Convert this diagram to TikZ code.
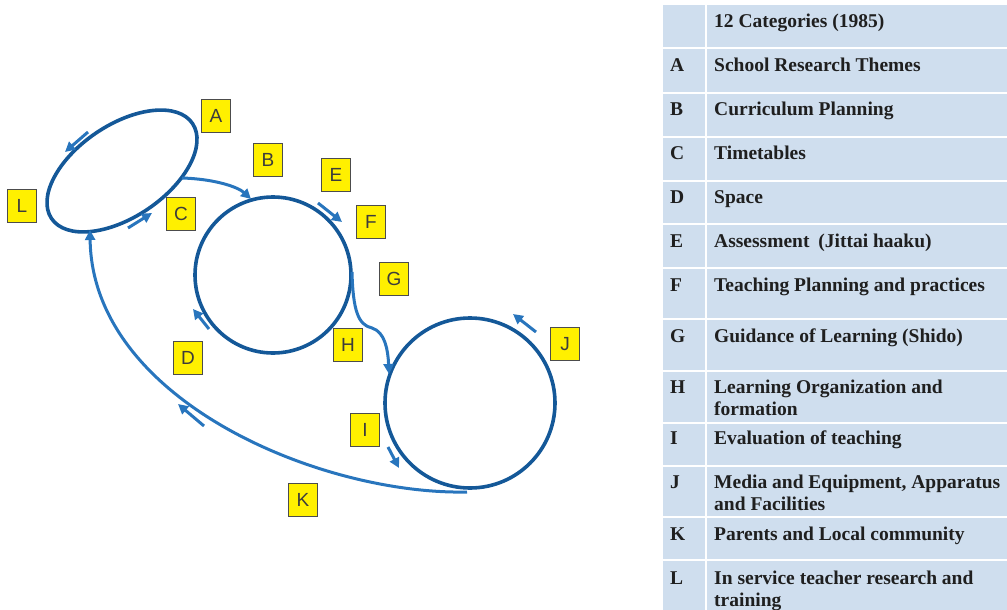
\documentclass[tikz,border=0pt]{standalone}
\usepackage{fontspec}
\setmainfont{Liberation Serif}
\newfontfamily\labelfont{Liberation Sans}
\usetikzlibrary{arrows.meta,shapes.geometric}
\definecolor{ringc}{RGB}{20,88,152}
\definecolor{flowc}{RGB}{40,117,189}
\definecolor{tabc}{RGB}{207,222,238}
\definecolor{tagc}{RGB}{255,240,0}
\definecolor{tagtext}{RGB}{60,60,60}
\begin{document}
\begin{tikzpicture}[x=1pt,y=-1pt,
  ring/.style={draw=ringc,line width=3.6pt,inner sep=0pt},
  flowline/.style={draw=flowc,line width=3pt,-{Triangle[length=10pt,width=10pt]}},
  tagbox/.style={draw=black!70,fill=tagc,line width=0.8pt,minimum width=29pt,minimum height=33pt,inner sep=0pt,font=\labelfont\fontsize{19}{19}\selectfont,text=tagtext},
  rowtext/.style={anchor=base west,inner sep=0pt,font=\bfseries\fontsize{19.5}{22}\selectfont,text=black!88}]
\useasboundingbox (0,0) rectangle (1007,610);

% table background
\foreach \t/\b in {5/47,49/92,94/136,138/180,182/223,225/267,269/318,320/370,372/422,424/465,467/516,518/559,561/610}{
  \fill[tabc] (663,\t) rectangle (705,\b);
  \fill[tabc] (707,\t) rectangle (1007,\b);
}
% table texts
\node[rowtext] (th) at (714,28) {12 Categories (1985)};
\node[rowtext] (lA) at (670,71) {A};
\node[rowtext] (tA) at (714,71) {School Research Themes};
\node[rowtext] (lB) at (670,115) {B};
\node[rowtext] (tB) at (714,115) {Curriculum Planning};
\node[rowtext] (lC) at (670,159) {C};
\node[rowtext] (tC) at (714,159) {Timetables};
\node[rowtext] (lD) at (670,203) {D};
\node[rowtext] (tD) at (714,203) {Space};
\node[rowtext] (lE) at (670,247) {E};
\node[rowtext] (tE) at (714,247) {Assessment\hspace{4pt} (Jittai haaku)};
\node[rowtext] (lF) at (670,291) {F};
\node[rowtext] (tF) at (714,291) {Teaching Planning and practices};
\node[rowtext] (lG) at (670,342) {G};
\node[rowtext] (tG) at (714,342) {Guidance of Learning (Shido)};
\node[rowtext] (lH) at (670,393) {H};
\node[rowtext] (tH) at (714,393) {Learning Organization and};
\node[rowtext] (tH2) at (714,415) {formation};
\node[rowtext] (lI) at (670,444) {I};
\node[rowtext] (tI) at (714,444) {Evaluation of teaching};
\node[rowtext] (lJ) at (670,488) {J};
\node[rowtext] (tJ) at (714,488) {Media and Equipment, Apparatus};
\node[rowtext] (tJ2) at (714,510) {and Facilities};
\node[rowtext] (lK) at (670,540) {K};
\node[rowtext] (tK) at (714,540) {Parents and Local community};
\node[rowtext] (lL) at (670,584) {L};
\node[rowtext] (tL) at (714,584) {In service teacher research and};
\node[rowtext] (tL2) at (714,606) {training};

% rings
\node[ring,ellipse,minimum width=170pt,minimum height=92pt,rotate=34] (e1) at (122,171) {};
\node[ring,circle,minimum size=156pt] (c2) at (273,275) {};
\node[ring,circle,minimum size=170pt] (c3) at (470,403) {};

% connectors
\coordinate (bS) at (182,178); \coordinate (bE) at (251,199);
\draw[flowline] (bS) .. controls (215,179) and (238,187) .. (bE);
\coordinate (hS) at (352,272); \coordinate (hM) at (372,328); \coordinate (hE) at (389,374);
\draw[flowline] (hS) .. controls (353,310) and (358,325) .. (hM) .. controls (385,332) and (388,350) .. (hE);
\coordinate (kS) at (467,492); \coordinate (kE) at (90,230);
\draw[flowline] (kS) .. controls (320,495) and (92,400) .. (kE);

% short direction arrows
\coordinate (a1s) at (88,132); \coordinate (a1e) at (65,152);
\coordinate (a2s) at (128,228); \coordinate (a2e) at (152,213);
\coordinate (a3s) at (318,203); \coordinate (a3e) at (342,222);
\coordinate (a4s) at (209,329); \coordinate (a4e) at (193,309);
\coordinate (a5s) at (536,332); \coordinate (a5e) at (513,314);
\coordinate (a6s) at (388,447); \coordinate (a6e) at (399,468);
\coordinate (a7s) at (204,426); \coordinate (a7e) at (178,404);
\foreach \i in {1,...,7}{\draw[flowline] (a\i s) -- (a\i e);}

% labels
\node[tagbox] (A) at (216,116) {A};
\node[tagbox] (B) at (268,160) {B};
\node[tagbox] (L) at (22,206) {L};
\node[tagbox] (C) at (181,214) {C};
\node[tagbox] (E) at (336,175) {E};
\node[tagbox] (F) at (371,222) {F};
\node[tagbox] (G) at (394,279) {G};
\node[tagbox] (H) at (348,345) {H};
\node[tagbox] (D) at (188,358) {D};
\node[tagbox] (K) at (303,500) {K};
\node[tagbox] (I) at (365,430) {I};
\node[tagbox] (J) at (565,344) {J};
\end{tikzpicture}
\end{document}
